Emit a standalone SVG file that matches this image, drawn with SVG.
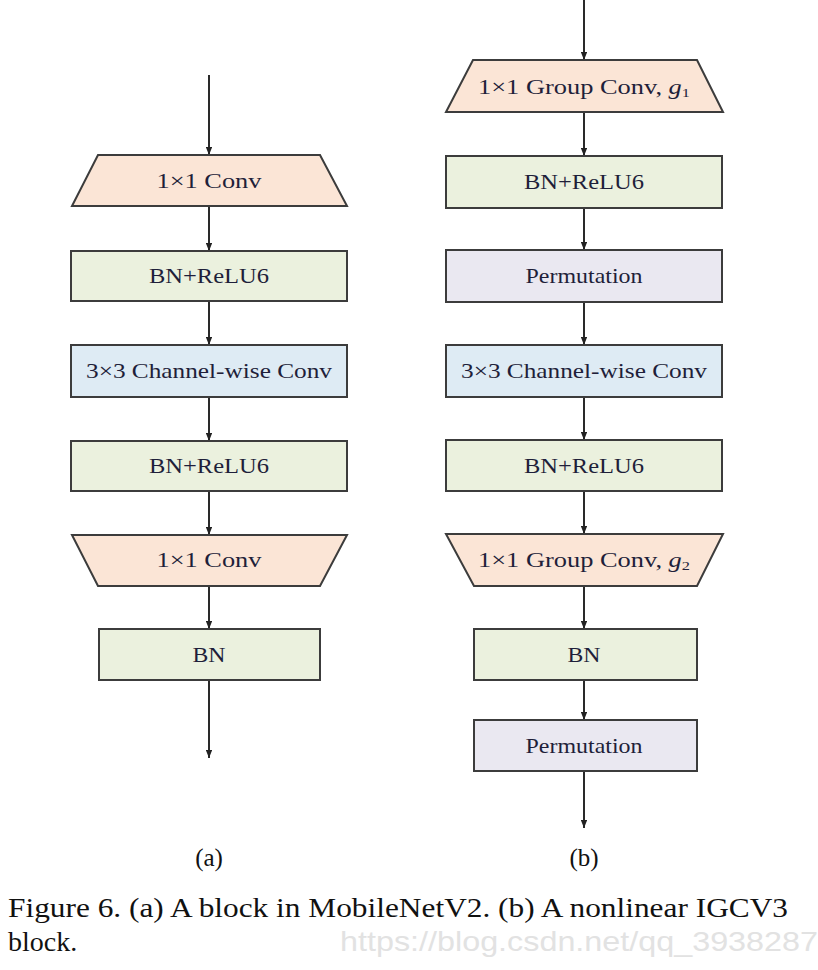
<svg xmlns="http://www.w3.org/2000/svg" width="818" height="970" viewBox="0 0 818 970">
  <defs>
    <marker id="arrow" viewBox="0 0 10 8" refX="10" refY="4" markerWidth="8" markerHeight="6.4" markerUnits="userSpaceOnUse" orient="auto">
      <path d="M0,0 L10,4 L0,8 Z" fill="#222"/>
    </marker>
    <style>
      .box { stroke: #3c3c3c; stroke-width: 2; }
      .conv1 { fill: #fbe5d6; }
      .bn { fill: #ebf1de; }
      .dw { fill: #deebf4; }
      .perm { fill: #eae8f1; }
      text { font-family: 'Liberation Serif', 'DejaVu Serif', serif; }
      .lbl { font-size: 21px; fill: #1f1f3a; text-anchor: middle; }
      .edge { stroke: #2a2a2a; stroke-width: 2; fill: none; marker-end: url(#arrow); }
      .cap { font-size: 28px; fill: #111; }
      .sub { font-size: 25px; fill: #111; text-anchor: middle; }
      .wm { font-family: 'Liberation Sans', 'DejaVu Sans', sans-serif; font-size: 28px; fill: #e2e2e2; }
    </style>
  </defs>
  <rect width="818" height="970" fill="#ffffff"/>

  <!-- connectors -->
  <g id="connectors">
    <!-- column (a) -->
    <line class="edge" x1="209" y1="75" x2="209" y2="155"/>
    <line class="edge" x1="209" y1="206" x2="209" y2="251"/>
    <line class="edge" x1="209" y1="301" x2="209" y2="345"/>
    <line class="edge" x1="209" y1="397" x2="209" y2="441"/>
    <line class="edge" x1="209" y1="491" x2="209" y2="535"/>
    <line class="edge" x1="209" y1="586" x2="209" y2="629"/>
    <line class="edge" x1="209" y1="680" x2="209" y2="758"/>
    <!-- column (b) -->
    <line class="edge" x1="584" y1="0" x2="584" y2="60"/>
    <line class="edge" x1="584" y1="112" x2="584" y2="156"/>
    <line class="edge" x1="584" y1="208" x2="584" y2="250"/>
    <line class="edge" x1="584" y1="302" x2="584" y2="345"/>
    <line class="edge" x1="584" y1="397" x2="584" y2="440"/>
    <line class="edge" x1="584" y1="491" x2="584" y2="534"/>
    <line class="edge" x1="584" y1="586" x2="584" y2="629"/>
    <line class="edge" x1="584" y1="680" x2="584" y2="720"/>
    <line class="edge" x1="584" y1="771" x2="584" y2="828"/>
  </g>

  <!-- column (a): MobileNetV2 block -->
  <g id="a-conv1">
    <polygon class="box conv1" points="98,155 320,155 347,206 72,206"/>
    <text class="lbl" x="209" y="188" textLength="105" lengthAdjust="spacingAndGlyphs">1×1 Conv</text>
  </g>
  <g id="a-bnrelu1">
    <rect class="box bn" x="71" y="251" width="276" height="50"/>
    <text class="lbl" x="209" y="283" textLength="120" lengthAdjust="spacingAndGlyphs">BN+ReLU6</text>
  </g>
  <g id="a-dwconv">
    <rect class="box dw" x="71" y="345" width="276" height="52"/>
    <text class="lbl" x="209" y="378" textLength="246" lengthAdjust="spacingAndGlyphs">3×3 Channel-wise Conv</text>
  </g>
  <g id="a-bnrelu2">
    <rect class="box bn" x="71" y="441" width="276" height="50"/>
    <text class="lbl" x="209" y="473" textLength="120" lengthAdjust="spacingAndGlyphs">BN+ReLU6</text>
  </g>
  <g id="a-conv2">
    <polygon class="box conv1" points="72,535 347,535 320,586 98,586"/>
    <text class="lbl" x="209" y="567" textLength="105" lengthAdjust="spacingAndGlyphs">1×1 Conv</text>
  </g>
  <g id="a-bn">
    <rect class="box bn" x="99" y="629" width="221" height="51"/>
    <text class="lbl" x="209" y="662" textLength="33" lengthAdjust="spacingAndGlyphs">BN</text>
  </g>

  <!-- column (b): nonlinear IGCV3 block -->
  <g id="b-gconv1">
    <polygon class="box conv1" points="473,60 697,60 723,112 446,112"/>
    <text class="lbl" x="584" y="94" textLength="212" lengthAdjust="spacingAndGlyphs">1×1 Group Conv, <tspan font-style="italic">g</tspan><tspan font-size="13" dy="3">1</tspan></text>
  </g>
  <g id="b-bnrelu1">
    <rect class="box bn" x="446" y="156" width="276" height="52"/>
    <text class="lbl" x="584" y="189" textLength="120" lengthAdjust="spacingAndGlyphs">BN+ReLU6</text>
  </g>
  <g id="b-perm1">
    <rect class="box perm" x="446" y="250" width="276" height="52"/>
    <text class="lbl" x="584" y="283" textLength="117" lengthAdjust="spacingAndGlyphs">Permutation</text>
  </g>
  <g id="b-dwconv">
    <rect class="box dw" x="446" y="345" width="276" height="52"/>
    <text class="lbl" x="584" y="378" textLength="246" lengthAdjust="spacingAndGlyphs">3×3 Channel-wise Conv</text>
  </g>
  <g id="b-bnrelu2">
    <rect class="box bn" x="446" y="440" width="276" height="51"/>
    <text class="lbl" x="584" y="473" textLength="120" lengthAdjust="spacingAndGlyphs">BN+ReLU6</text>
  </g>
  <g id="b-gconv2">
    <polygon class="box conv1" points="446,534 723,534 697,586 474,586"/>
    <text class="lbl" x="584" y="567" textLength="212" lengthAdjust="spacingAndGlyphs">1×1 Group Conv, <tspan font-style="italic">g</tspan><tspan font-size="13" dy="3">2</tspan></text>
  </g>
  <g id="b-bn">
    <rect class="box bn" x="474" y="629" width="223" height="51"/>
    <text class="lbl" x="584" y="662" textLength="33" lengthAdjust="spacingAndGlyphs">BN</text>
  </g>
  <g id="b-perm2">
    <rect class="box perm" x="474" y="720" width="223" height="51"/>
    <text class="lbl" x="584" y="753" textLength="117" lengthAdjust="spacingAndGlyphs">Permutation</text>
  </g>

  <!-- sub-figure labels and caption -->
  <text class="sub" x="209" y="866">(a)</text>
  <text class="sub" x="584" y="866">(b)</text>
  <text class="wm" x="340" y="951" textLength="478" lengthAdjust="spacingAndGlyphs">https://blog.csdn.net/qq_3938287</text>
  <text class="cap" x="8" y="917" textLength="780" lengthAdjust="spacingAndGlyphs">Figure 6. (a) A block in MobileNetV2.  (b) A nonlinear IGCV3</text>
  <text class="cap" x="8" y="951">block.</text>
</svg>
